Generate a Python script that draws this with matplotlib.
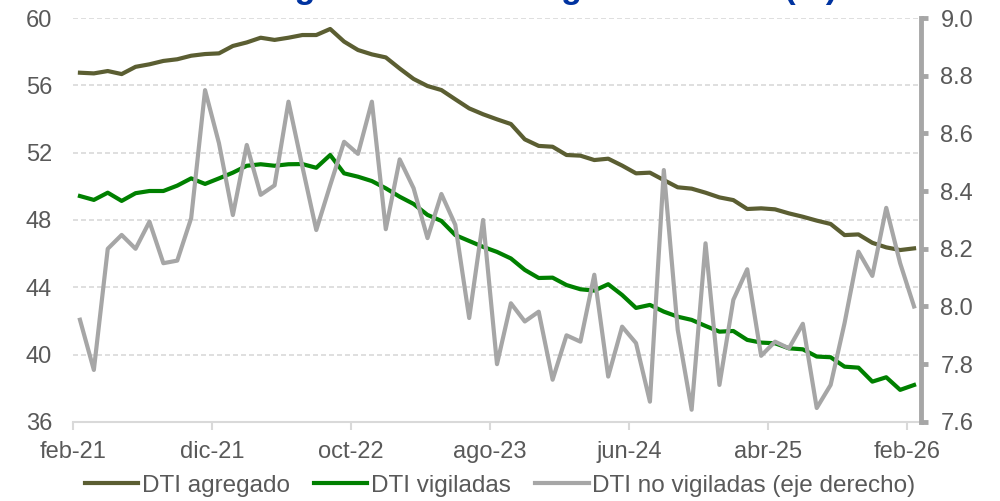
import numpy as np
import matplotlib
matplotlib.use("Agg")
import matplotlib.pyplot as plt

plt.rcParams['font.family'] = ['Liberation Sans', 'DejaVu Sans']

# datos mensuales feb-21 ... feb-26
etiquetas = ['feb-21', 'dic-21', 'oct-22', 'ago-23', 'jun-24', 'abr-25', 'feb-26']

dti_agregado = [56.75, 56.71, 56.85, 56.67, 57.10, 57.25, 57.45, 57.55, 57.76, 57.86,
                57.90, 58.34, 58.55, 58.83, 58.70, 58.83, 58.99, 58.99, 59.35, 58.60,
                58.10, 57.84, 57.66, 57.00, 56.38, 55.96, 55.72, 55.17, 54.63, 54.28,
                53.98, 53.70, 52.79, 52.40, 52.35, 51.86, 51.82, 51.56, 51.64, 51.23,
                50.77, 50.81, 50.37, 49.94, 49.86, 49.62, 49.34, 49.18, 48.65, 48.69,
                48.63, 48.39, 48.19, 47.96, 47.76, 47.10, 47.14, 46.64, 46.37, 46.21,
                46.31]

dti_vigiladas = [49.42, 49.19, 49.62, 49.13, 49.59, 49.72, 49.72, 50.04, 50.47, 50.14,
                 50.47, 50.81, 51.22, 51.31, 51.22, 51.31, 51.32, 51.10, 51.86, 50.77,
                 50.57, 50.31, 49.88, 49.38, 48.95, 48.30, 47.94, 47.10, 46.75, 46.40,
                 46.10, 45.71, 45.03, 44.55, 44.57, 44.13, 43.88, 43.80, 44.18, 43.54,
                 42.77, 42.95, 42.55, 42.25, 42.06, 41.70, 41.36, 41.40, 40.87, 40.71,
                 40.67, 40.37, 40.31, 39.88, 39.84, 39.28, 39.22, 38.39, 38.65, 37.90,
                 38.19]

dti_no_vigiladas = [7.954, 7.780, 8.200, 8.248, 8.200, 8.294, 8.150, 8.159, 8.306, 8.750,
                    8.566, 8.317, 8.560, 8.387, 8.420, 8.710, 8.485, 8.265, 8.420, 8.571,
                    8.529, 8.710, 8.268, 8.510, 8.410, 8.237, 8.390, 8.283, 7.960, 8.300,
                    7.800, 8.011, 7.948, 7.982, 7.746, 7.900, 7.878, 8.110, 7.757, 7.930,
                    7.873, 7.670, 8.473, 7.919, 7.642, 8.219, 7.728, 8.023, 8.129, 7.829,
                    7.878, 7.855, 7.940, 7.648, 7.728, 7.942, 8.190, 8.106, 8.342, 8.150,
                    8.000]

x = np.arange(len(dti_agregado))

c_olivo = '#5B5E32'
c_verde = '#008000'
c_gris = '#A6A6A6'
c_texto = '#595959'
c_grid = '#D9D9D9'

fig = plt.figure(figsize=(10, 5.01), dpi=100)
ax = fig.add_axes([0.073, 0.158, 0.848, 0.806])
ax2 = ax.twinx()

l1, = ax.plot(x, dti_agregado, color=c_olivo, lw=3.0, label='DTI agregado', zorder=3)
l2, = ax.plot(x, dti_vigiladas, color=c_verde, lw=3.0, label='DTI vigiladas', zorder=3)
l3, = ax2.plot(x, dti_no_vigiladas, color=c_gris, lw=3.0, label='DTI no vigiladas (eje derecho)')

ax.set_xlim(-0.5, 60.5)
ax.set_ylim(36, 60)
ax.set_yticks(np.arange(36, 61, 4))
ax2.set_ylim(7.6, 9.0)
ax2.set_yticks(np.arange(7.6, 9.01, 0.2))
ax2.set_yticklabels([f'{v:.1f}' for v in np.arange(7.6, 9.01, 0.2)])

ax.set_xticks(np.arange(0, 61, 10) - 0.5)
ax.set_xticklabels(etiquetas)

ax.yaxis.grid(True, color=c_grid, lw=1.2, linestyle=(0, (3, 1.8)))
ax.set_axisbelow(True)

for s in ['top', 'left', 'right']:
    ax.spines[s].set_visible(False)
ax.spines['bottom'].set_color(c_grid)
ax.spines['bottom'].set_linewidth(1.5)
for s in ['top', 'left', 'bottom']:
    ax2.spines[s].set_visible(False)
ax2.spines['right'].set_color(c_gris)
ax2.spines['right'].set_linewidth(3.5)

ax.tick_params(axis='x', length=6, width=1.5, color=c_grid, labelcolor=c_texto,
               labelsize=17, pad=8)
ax.tick_params(axis='y', length=0, labelcolor=c_texto, labelsize=17, pad=15)
ax2.tick_params(axis='y', length=5, width=3.5, color=c_gris, labelcolor=c_texto,
                labelsize=17, pad=9)

# titulo (queda casi fuera del lienzo, como en el original)
fig.text(0.238, 1.004, 'Carga de deuda a ingreso laboral (%)', ha='left', va='baseline',
         fontsize=24.5, fontweight='bold', color='#0033A0')

fig.legend(handles=[l1, l2, l3], loc='center', bbox_to_anchor=(0.5, 0.03), ncol=3,
           frameon=False, fontsize=17.5, labelcolor=c_texto, handlelength=2.2,
           handletextpad=0.15, columnspacing=1.0, borderaxespad=0)

fig.savefig('out.png', dpi=100)
